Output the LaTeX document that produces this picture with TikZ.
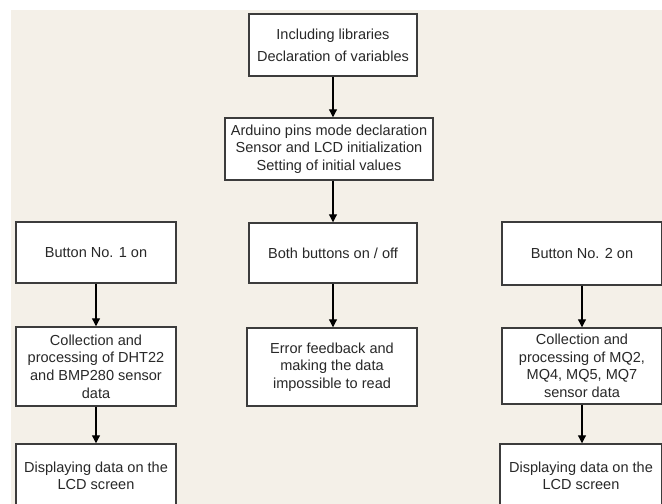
\documentclass[tikz,border=0pt]{standalone}
\usepackage{fontspec}
\setmainfont{Liberation Sans}
\usetikzlibrary{arrows.meta}
\definecolor{bgc}{RGB}{244,240,232}
\definecolor{edgec}{RGB}{60,60,60}
\definecolor{txtc}{RGB}{40,40,40}
\tikzset{
  box/.style={draw=edgec, fill=white, line width=1.1pt, align=center,
    inner sep=0pt, font=\fontsize{10.9}{13.2}\selectfont, text=txtc},
  arr/.style={draw=black, line width=0.85pt, -{Triangle[length=6pt,width=6pt]}}
}
\begin{document}
\begin{tikzpicture}[x=0.75pt,y=-0.75pt]
\useasboundingbox (0,0) rectangle (662,504);
\clip (0,0) rectangle (662,504);
\fill[bgc] (11,10) rectangle (662,504);
\node[box, minimum width=168*0.75pt, minimum height=62*0.75pt] (top) at (333,45)
  {\raisebox{0pt}[\height][\depth]{Including libraries}\\[3.5pt]Declaration of variables};
\node[box, minimum width=208*0.75pt, minimum height=62*0.75pt] (init) at (329,149)
  {Arduino pins mode declaration\\Sensor and LCD initialization\\Setting of initial values};
\node[box, minimum width=168*0.75pt, minimum height=60*0.75pt] (both) at (333,253)
  {Both buttons on / off};
\node[box, minimum width=170*0.75pt, minimum height=78*0.75pt] (err) at (332,367)
  {Error feedback and\\making the data\\impossible to read};
\node[box, minimum width=160*0.75pt, minimum height=61*0.75pt] (b1) at (96,252.5)
  {Button No. 1 on};
\node[box, minimum width=160*0.75pt, minimum height=79*0.75pt] (l2) at (96,366.5)
  {Collection and\\processing of DHT22\\and BMP280 sensor\\data};
\node[box, minimum width=160*0.75pt, minimum height=64*0.75pt] (l3) at (96,476)
  {Displaying data on the\\LCD screen};
\node[box, minimum width=160*0.75pt, minimum height=63*0.75pt] (b2) at (582,253.5)
  {Button No. 2 on};
\node[box, minimum width=160*0.75pt, minimum height=76*0.75pt] (r2) at (582,366)
  {Collection and\\processing of MQ2,\\MQ4, MQ5, MQ7\\sensor data};
\node[box, minimum width=162*0.75pt, minimum height=64*0.75pt] (r3) at (581,476)
  {Displaying data on the\\LCD screen};
\draw[arr] (top.south) -- (top.south |- init.north);
\draw[arr] (init.south -| top.south) -- (top.south |- both.north);
\draw[arr] (both.south) -- (both.south |- err.north);
\draw[arr] (b1.south) -- (b1.south |- l2.north);
\draw[arr] (l2.south) -- (l2.south |- l3.north);
\draw[arr] (b2.south) -- (b2.south |- r2.north);
\draw[arr] (r2.south -| b2.south) -- (b2.south |- r3.north);
\end{tikzpicture}
\end{document}
